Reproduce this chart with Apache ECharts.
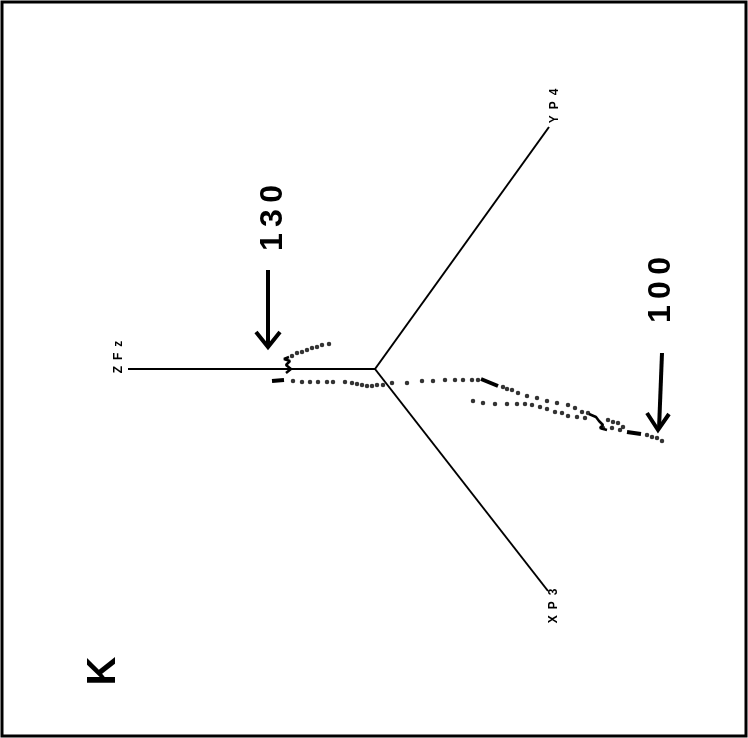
<!DOCTYPE html>
<html>
<head>
<meta charset="utf-8">
<script src="https://cdn.jsdelivr.net/npm/echarts@6/dist/echarts.min.js"></script>
<style>
  html, body { margin: 0; padding: 0; background: #fff; }
  #chart { width: 748px; height: 738px; }
</style>
</head>
<body>
<div id="chart"></div>
<script>
// axis origin and the ends of the three projected axes (page units)
const origin = [375, 369]
const axisNames = ['ZFz', 'YP4', 'XP3']
const axisEnds = [[128, 369], [549, 127], [548, 591]]

// trajectory
const nearZUpper = [[329, 344], [322, 345], [317, 347], [312, 348], [307, 350], [302, 352], [297, 353], [292, 356]]
const nearZSquiggle = [[289, 357], [284, 359], [290, 361], [286, 365], [291, 369], [286, 373]]
const nearZDash = [[272, 381], [284, 380]]
const mainUpper = [[293, 381], [302, 382], [310, 382], [318, 382], [327, 382], [333, 382], [345, 382], [352, 383],
	[357, 384], [362, 385], [367, 386], [372, 386], [377, 385], [383, 385], [392, 383], [407, 383], [422, 381],
	[433, 381], [445, 380], [455, 380], [463, 380], [472, 380], [478, 380], [503, 387], [507, 389], [512, 390],
	[518, 393], [527, 396], [537, 398], [547, 401], [557, 403], [568, 405], [575, 408], [582, 412], [588, 413],
	[608, 420], [613, 422], [618, 423], [623, 427], [647, 435], [652, 437], [657, 438], [662, 441]]
const mainLower = [[473, 401], [483, 403], [495, 404], [507, 404], [517, 404], [525, 404], [532, 405], [540, 407],
	[547, 409], [555, 412], [562, 413], [568, 416], [577, 417], [585, 418], [603, 428], [612, 428], [620, 430]]
const mainDash1 = [[481, 379], [498, 386]]
const mainSquiggle = [[589, 414], [596, 417], [599, 421], [603, 425], [600, 428], [607, 430]]
const mainDash2 = [[627, 432], [641, 434]]

// annotations
const marks = ['130', '100']
const sideLabel = 'K'

let chart = echarts.init(document.getElementById('chart'))

let axisSeries = axisEnds.map((end, i) => ({
	name: axisNames[i],
	type: 'line',
	data: [origin, end],
	symbol: 'none',
	lineStyle: { color: '#000', width: 2 },
	silent: true
}))

function dots(data) {
	return { type: 'scatter', data: data, symbolSize: 4.5, itemStyle: { color: '#000' }, silent: true }
}
function stroke(data, w) {
	return { type: 'line', data: data, symbol: 'none', lineStyle: { color: '#000', width: w }, silent: true }
}

function vtext(text, x, y, size) {
	return {
		type: 'text', x: x, y: y, rotation: Math.PI / 2,
		style: { text: text, fill: '#000', font: 'bold ' + size + 'px "Liberation Sans", Arial, sans-serif', align: 'center', verticalAlign: 'middle' }
	}
}
function arrow(pts) {
	return { type: 'polyline', shape: { points: pts }, style: { stroke: '#000', lineWidth: 4, fill: null, lineJoin: 'miter' } }
}

let option = {
	animation: false,
	grid: { left: 0, right: 0, top: 0, bottom: 0 },
	xAxis: { type: 'value', min: 0, max: 748, show: false },
	yAxis: { type: 'value', min: 0, max: 738, inverse: true, show: false },
	series: axisSeries.concat([
		dots(nearZUpper),
		stroke(nearZSquiggle, 2.5),
		stroke(nearZDash, 4),
		dots(mainUpper),
		dots(mainLower),
		stroke(mainDash1, 4),
		stroke(mainSquiggle, 2.5),
		stroke(mainDash2, 4)
	]),
	graphic: [
		{ type: 'rect', shape: { x: 2, y: 2, width: 744, height: 734 }, style: { stroke: '#000', lineWidth: 3, fill: null } },
		vtext('Z\u2002F\u2002z', 119, 357, 12),
		vtext('Y\u2002P\u20024', 555, 106, 12),
		vtext('X\u2002P\u20023', 554, 606, 12),
		vtext(marks[0].split('').join('\u2009'), 273, 218, 32),
		vtext(marks[1].split('').join('\u2009'), 661, 290, 32),
		vtext(sideLabel, 104, 671, 40),
		arrow([[268, 270], [268, 346]]),
		arrow([[256, 332], [268, 347], [280, 332]]),
		arrow([[662, 353], [659, 429]]),
		arrow([[647, 413], [658, 430], [669, 414]])
	]
}
chart.setOption(option)
</script>
</body>
</html>
